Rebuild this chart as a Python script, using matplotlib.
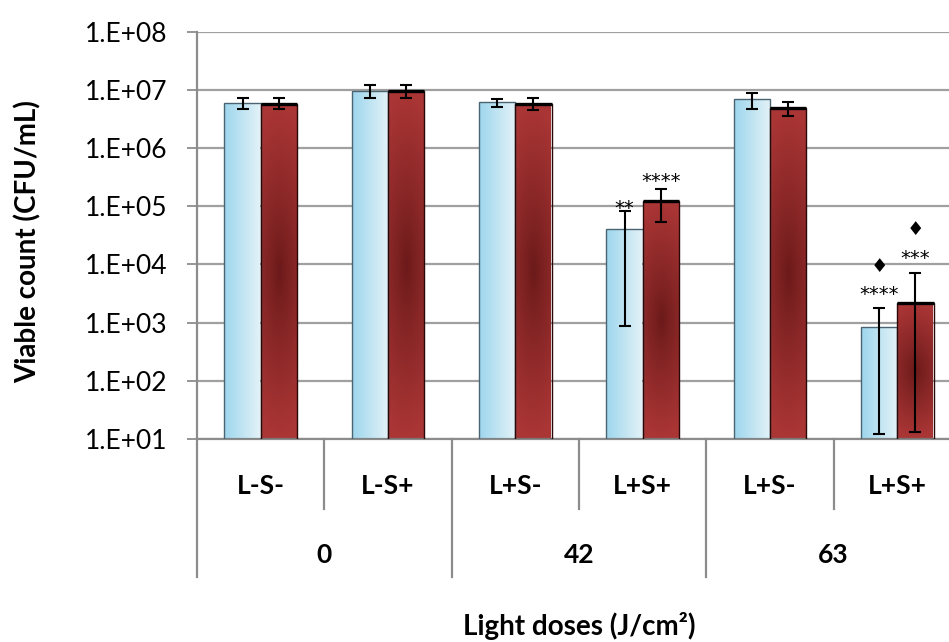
import numpy as np
import matplotlib
matplotlib.use("Agg")
import matplotlib.pyplot as plt
from matplotlib.ticker import FixedLocator, FuncFormatter, NullLocator

plt.rcParams['font.family'] = ['Lato', 'DejaVu Sans']

# categories and groups (light dose)
categories = ["L-S-", "L-S+", "L+S-", "L+S+", "L+S-", "L+S+"]
groups = ["0", "42", "63"]
cats_per_group = 2

# series 1 (light blue) – mean and error bar limits
blue_vals = [5.9e6, 9.6e6, 6.1e6, 4.0e4, 6.8e6, 8.3e2]
blue_hi = [7.3e6, 1.2e7, 6.9e6, 8.3e4, 8.9e6, 1.75e3]
blue_lo = [4.6e6, 7.3e6, 5.0e6, 8.7e2, 4.65e6, 12.1]

# series 2 (dark red)
red_vals = [5.7e6, 9.5e6, 5.7e6, 1.24e5, 4.9e6, 2.19e3]
red_hi = [7.3e6, 1.2e7, 7.3e6, 1.99e5, 6.2e6, 7.0e3]
red_lo = [4.6e6, 7.3e6, 4.4e6, 5.3e4, 3.6e6, 13.0]

# significance marks: (category index, series, text)
marks = [(3, 0, "**"), (3, 1, "****"), (5, 0, "****"), (5, 0, "\u2666"),
         (5, 1, "***"), (5, 1, "\u2666")]
mark_offsets = [-2.5, 1, 6, 26.5, 6.8, 27.4]  # baseline, points above error bar top

ylabel = "Viable count (CFU/mL)"
xlabel = "Light doses (J/cm\u00b2)"


def gradient_blue(nx=60, ny=4):
    c0 = np.array([0.62, 0.84, 0.93])
    c1 = np.array([0.89, 0.95, 0.97])
    t = np.linspace(0, 1, nx)[None, :, None]
    img = c0 + (c1 - c0) * t
    return np.repeat(img, ny, axis=0)


def gradient_red(nx=40, ny=200):
    c_mid = np.array([0.42, 0.10, 0.10])
    c_edge = np.array([0.67, 0.21, 0.21])
    u = np.linspace(-1, 1, nx)[None, :]
    v = np.linspace(-1, 1, ny)[:, None]
    r = np.clip(np.sqrt((0.45 * u) ** 2 + v ** 2), 0, 1) ** 0.9
    return c_mid + (c_edge - c_mid) * r[:, :, None]


fig = plt.figure(figsize=(9.49, 6.42), dpi=100)
ax = fig.add_axes([197 / 949, 1 - 439 / 642, 764 / 949, 407.5 / 642])

x = np.arange(len(categories))
w = 0.285
ax.set_yscale('log')
ax.set_ylim(10, 1e8)
ax.set_xlim(-0.5, len(categories) - 0.5)

blue_bars = ax.bar(x - w / 2, blue_vals, w, bottom=10, facecolor='none',
                   edgecolor='#4a6472', linewidth=1.0, zorder=3)
red_bars = ax.bar(x + w / 2, red_vals, w, bottom=10, facecolor='none',
                  edgecolor='#2a0808', linewidth=1.0, zorder=3)

# gradient fills clipped to each bar
to_axes = ax.transAxes.inverted()
for bars, vals, maker in [(blue_bars, blue_vals, gradient_blue),
                          (red_bars, red_vals, gradient_red)]:
    for b, v in zip(bars, vals):
        x0 = b.get_x()
        x1 = x0 + b.get_width()
        ytop = to_axes.transform(ax.transData.transform((x0, v)))[1]
        im = ax.imshow(maker(), extent=(x0, x1, 0, ytop), origin='lower',
                       aspect='auto', transform=ax.get_xaxis_transform(),
                       interpolation='bilinear', zorder=2.5)
        im.set_clip_path(b)
ax.set_xlim(-0.5, len(categories) - 0.5)
ax.set_ylim(10, 1e8)

# thick top edge on the red bars
for b, v in zip(red_bars, red_vals):
    ax.plot([b.get_x(), b.get_x() + b.get_width()], [v, v], color='black',
            lw=2.4, solid_capstyle='butt', zorder=4)

blue_vals_a = np.array(blue_vals)
red_vals_a = np.array(red_vals)
ax.errorbar(x - w / 2, blue_vals_a,
            yerr=[blue_vals_a - np.array(blue_lo), np.array(blue_hi) - blue_vals_a],
            fmt='none', ecolor='black', elinewidth=1.5, capsize=4.5,
            capthick=1.5, zorder=5)
ax.errorbar(x + w / 2, red_vals_a,
            yerr=[red_vals_a - np.array(red_lo), np.array(red_hi) - red_vals_a],
            fmt='none', ecolor='black', elinewidth=1.5, capsize=4.5,
            capthick=1.5, zorder=5)

# significance marks
his = [blue_hi, red_hi]
for (ci, s, txt), off in zip(marks, mark_offsets):
    xx = x[ci] + (w / 2 if s else -w / 2)
    ax.annotate(txt, (xx, his[s][ci]), xytext=(0, off), textcoords='offset points',
                ha='center', va='baseline', fontsize=14, family='DejaVu Sans',
                zorder=6)

# y axis
ax.yaxis.set_major_locator(FixedLocator(10.0 ** np.arange(1, 9)))
ax.yaxis.set_minor_locator(NullLocator())
ax.yaxis.set_major_formatter(FuncFormatter(lambda v, p: "1.E+%02d" % round(np.log10(v))))
ax.tick_params(axis='y', length=7, width=1.3, color='#8c8c8c', pad=14,
               labelsize=19)
ax.grid(axis='y', color='#a0a0a0', linewidth=1.6)
ax.set_axisbelow(True)
ax.set_ylabel(ylabel, fontsize=20, fontweight='bold')
ax.yaxis.set_label_coords(-0.203, 0.485)

for side in ['top', 'right']:
    ax.spines[side].set_visible(False)
for side in ['left', 'bottom']:
    ax.spines[side].set_color('#8c8c8c')
    ax.spines[side].set_linewidth(1.6)

# multi-level x axis
ax.set_xticks([])
xt = ax.get_xaxis_transform()
for i, c in enumerate(categories):
    ax.text(x[i], -0.115, c, transform=xt, ha='center', va='center',
            fontsize=19, fontweight='bold')
for g, name in enumerate(groups):
    gc = x[g * cats_per_group:(g + 1) * cats_per_group].mean()
    ax.text(gc, -0.285, name, transform=xt, ha='center', va='center',
            fontsize=19, fontweight='bold')
for i in range(len(categories) + 1):
    bx = i - 0.5
    depth = -0.339 if i % cats_per_group == 0 else -0.172
    ax.plot([bx, bx], [0, depth], transform=xt, color='#8c8c8c', lw=1.6,
            clip_on=False)

ax.text(0.5, -0.482, xlabel, transform=ax.transAxes, ha='center', va='baseline',
        fontsize=20, fontweight='bold')

fig.savefig("out.png", dpi=100)
